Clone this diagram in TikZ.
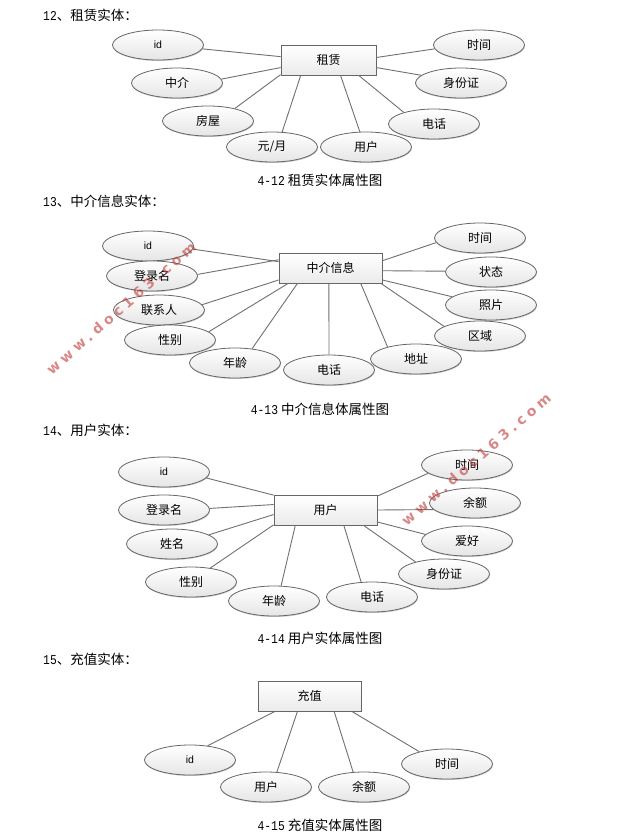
\documentclass[tikz,border=0pt]{standalone}
\usepackage{fontspec}
\setmainfont{Liberation Sans}
\newfontfamily\cjk{Noto Sans CJK SC}
\newfontfamily\num[FakeStretch=0.84]{Liberation Mono}
\newfontfamily\wm[LetterSpace=30]{DejaVu Sans}
\usetikzlibrary{shapes.geometric,shadows}
\definecolor{edgec}{HTML}{666666}
\definecolor{linec}{HTML}{707070}
\definecolor{wmc}{HTML}{C03A3A}
\tikzset{
 attr/.style={ellipse,draw=edgec,line width=0.8pt,minimum width=91pt,minimum height=30pt,inner sep=0pt,
   top color=white,bottom color=black!10,font=\cjk\fontsize{12}{14}\selectfont,
   drop shadow={shadow xshift=0.5pt,shadow yshift=-1pt,opacity=.2,fill=black}},
 ent/.style={rectangle,draw=edgec,line width=0.8pt,inner sep=0pt,minimum height=30pt,
   top color=white,bottom color=black!8,font=\cjk\fontsize{12}{14}\selectfont,
   drop shadow={shadow xshift=0.5pt,shadow yshift=-1pt,opacity=.2,fill=black}},
 conn/.style={draw=linec,line width=0.9pt},
 head/.style={anchor=west,inner sep=0pt,font=\cjk\fontsize{13.5}{15}\selectfont},
 capt/.style={inner sep=0pt,font=\cjk\fontsize{13.5}{15}\selectfont},
 mark wm/.style={rotate=41.2,text=wmc,opacity=.6,inner sep=0pt,font=\wm\bfseries\fontsize{14}{16}\selectfont},
}
\newcommand{\latn}[1]{{\fontspec{Liberation Sans}\fontsize{10.5}{12}\selectfont #1}}
\newcommand{\nm}[1]{{\num\fontsize{13.5}{15}\selectfont #1}}
\begin{document}
\begin{tikzpicture}[x=1pt,y=-1pt]
\useasboundingbox[fill=white] (0,0) rectangle (620,837);

% ---- 12
\node[head] (h1) at (43,15) {\nm{12}、租赁实体：};
\node[ent,minimum width=95pt] (r1) at (328.5,60) {租赁};
\node[attr] (a1) at (158,45) {\latn{id}};
\node[attr] (a2) at (177,83) {中介};
\node[attr] (a3) at (208,121) {房屋};
\node[attr] (a4) at (272,147) {元/月};
\node[attr] (a5) at (366,147) {用户};
\node[attr] (a6) at (434,124) {电话};
\node[attr] (a7) at (461,83) {身份证};
\node[attr] (a8) at (479,45) {时间};
\draw[conn] (a1.-5) -- (r1.176.4);
\draw[conn] (a2.5) -- (r1.189.6);
\draw[conn] (a3.25) -- (r1.197.5);
\draw[conn] (a4.56) -- (r1.209.5);
\draw[conn] (a5.112) -- (r1.-52.5);
\draw[conn] (a6.159) -- (r1.-27);
\draw[conn] (a7.169) -- (r1.-9.6);
\draw[conn] (a8.185) -- (r1.3.6);
\node[capt] (c1) at (320,180) {\nm{4-12} 租赁实体属性图};

% ---- 13
\node[head] (h2) at (43,201) {\nm{13}、中介信息实体：};
\node[ent,minimum width=103pt] (r2) at (330.5,268) {中介信息};
\node[attr] (b1) at (148,246) {\latn{id}};
\node[attr] (b2) at (152,276) {登录名};
\node[attr] (b3) at (159,310) {联系人};
\node[attr] (b4) at (170,340) {性别};
\node[attr] (b5) at (235,363) {年龄};
\node[attr] (b6) at (329,370) {电话};
\node[attr] (b7) at (416,359) {地址};
\node[attr] (b8) at (480,336) {区域};
\node[attr] (b9) at (491,305) {照片};
\node[attr] (b10) at (491,272) {状态};
\node[attr] (b11) at (480,238) {时间};
\draw[conn] (b1.-4) -- (r2.173.4);
\draw[conn] (b2.2.5) -- (r2.171.2);
\draw[conn] (b3.7.6) -- (r2.193);
\draw[conn] (b4.12) -- (r2.200.8);
\draw[conn] (b5.40) -- (r2.205.5);
\draw[conn] (b6.90) -- (r2.264);
\draw[conn] (b7.157) -- (r2.-27.8);
\draw[conn] (b8.165) -- (r2.-17.5);
\draw[conn] (b9.168) -- (r2.-13);
\draw[conn] (b10.179) -- (r2.-3.3);
\draw[conn] (b11.186.5) -- (r2.8.8);
\node[capt] (c2) at (320,409) {\nm{4-13} 中介信息体属性图};

% ---- 14
\node[head] (h3) at (43,430) {\nm{14}、用户实体：};
\node[ent,minimum width=103pt] (r3) at (325.5,510) {用户};
\node[attr] (d1) at (164,472) {\latn{id}};
\node[attr] (d2) at (164,510) {登录名};
\node[attr] (d3) at (172,544) {姓名};
\node[attr] (d4) at (191,582) {性别};
\node[attr] (d5) at (274,601) {年龄};
\node[attr] (d6) at (372,597) {电话};
\node[attr] (d7) at (444,574) {身份证};
\node[attr] (d8) at (467,541) {爱好};
\node[attr] (d9) at (475,503) {余额};
\node[attr] (d10) at (467,465) {时间};
\draw[conn] (d1.-8) -- (r3.164.8);
\draw[conn] (d2.2.5) -- (r3.174.5);
\draw[conn] (d3.14.7) -- (r3.185.5);
\draw[conn] (d4.36) -- (r3.196.3);
\draw[conn] (d5.65) -- (r3.207.8);
\draw[conn] (d6.126) -- (r3.-40.6);
\draw[conn] (d7.157) -- (r3.-22.3);
\draw[conn] (d8.171) -- (r3.-13);
\draw[conn] (d9.189) -- (r3.0);
\draw[conn] (d10.192) -- (r3.15.2);
\node[capt] (c3) at (320,638) {\nm{4-14} 用户实体属性图};

% ---- 15
\node[head] (h4) at (43,659) {\nm{15}、充值实体：};
\node[ent,minimum width=103pt] (r4) at (309.5,696) {充值};
\node[attr] (e1) at (190,760) {\latn{id}};
\node[attr] (e2) at (266,787) {用户};
\node[attr] (e3) at (364,787) {余额};
\node[attr] (e4) at (447,764) {时间};
\draw[conn] (e1.39.5) -- (r4.204);
\draw[conn] (e2.54) -- (r4.232.5);
\draw[conn] (e3.126) -- (r4.-32.5);
\draw[conn] (e4.156) -- (r4.-20);
\node[capt] (c4) at (320,825) {\nm{4-15} 充值实体属性图};

% ---- watermarks
\node[mark wm] (w1) at (121,308) {www.doc163.com};
\node[mark wm] (w2) at (476,459) {www.doc163.com};
\end{tikzpicture}
\end{document}
